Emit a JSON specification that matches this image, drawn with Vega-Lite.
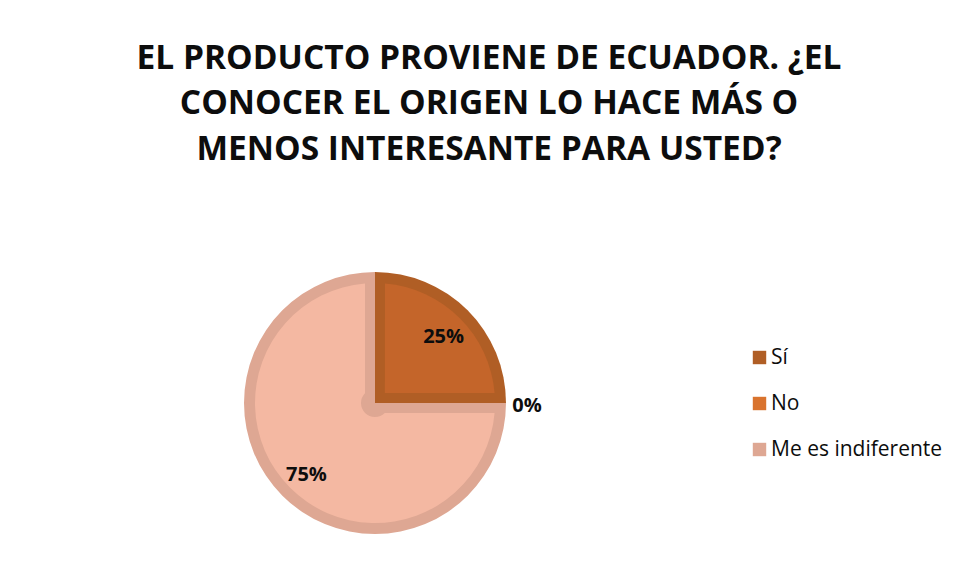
{
  "$schema": "https://vega.github.io/schema/vega-lite/v6.json",
  "width": 750,
  "height": 358,
  "autosize": {"type": "none"},
  "padding": {"left": 0, "top": 224, "right": 207, "bottom": 0},
  "background": "white",
  "config": {"view": {"stroke": null}, "font": "Open Sans"},
  "title": {
    "text": ["EL PRODUCTO PROVIENE DE ECUADOR. ¿EL", "CONOCER EL ORIGEN LO HACE MÁS O", "MENOS INTERESANTE PARA USTED?"],
    "font": "Open Sans",
    "fontSize": 33.5,
    "fontWeight": "bold",
    "color": "#0d0d0d",
    "lineHeight": 45.5,
    "anchor": "middle",
    "dx": 114,
    "offset": 57
  },
  "data": {
    "values": [
      {"respuesta": "Sí", "valor": 0.25, "orden": 1},
      {"respuesta": "No", "valor": 0, "orden": 2},
      {"respuesta": "Me es indiferente", "valor": 0.75, "orden": 3}
    ]
  },
  "encoding": {
    "theta": {"field": "valor", "type": "quantitative", "stack": true},
    "order": {"field": "orden", "type": "quantitative"}
  },
  "layer": [
    {
      "mark": {"type": "arc", "radius": 131},
      "encoding": {
        "color": {
          "field": "respuesta",
          "type": "nominal",
          "scale": {"domain": ["Sí", "No", "Me es indiferente"], "range": ["#B05E25", "#D9732E", "#DEA793"]},
          "legend": {
            "orient": "none",
            "legendX": 749,
            "legendY": 123,
            "title": null,
            "symbolType": "square",
            "symbolSize": 180,
            "symbolStrokeWidth": 0,
            "labelFont": "Open Sans",
            "labelFontSize": 21,
            "labelColor": "#0d0d0d",
            "labelOffset": 1,
            "labelLimit": 300,
            "rowPadding": 24,
            "padding": 0
          }
        }
      }
    },
    {
      "mark": {"type": "arc", "radius": 120, "radius2": 14, "padAngle": 0.1658},
      "encoding": {
        "fill": {
          "field": "respuesta",
          "type": "nominal",
          "scale": {"domain": ["Sí", "No", "Me es indiferente"], "range": ["#C4652A", "#E07B39", "#F4B8A2"]},
          "legend": null
        }
      }
    },
    {
      "mark": {"type": "text", "radius": {"expr": "datum.valor === 0 ? 152 : 97"}, "dy": 3, "font": "Open Sans", "fontSize": 20, "fontWeight": "bold", "color": "#0d0d0d"},
      "encoding": {
        "text": {"field": "valor", "type": "quantitative", "format": ".0%"}
      }
    }
  ]
}
